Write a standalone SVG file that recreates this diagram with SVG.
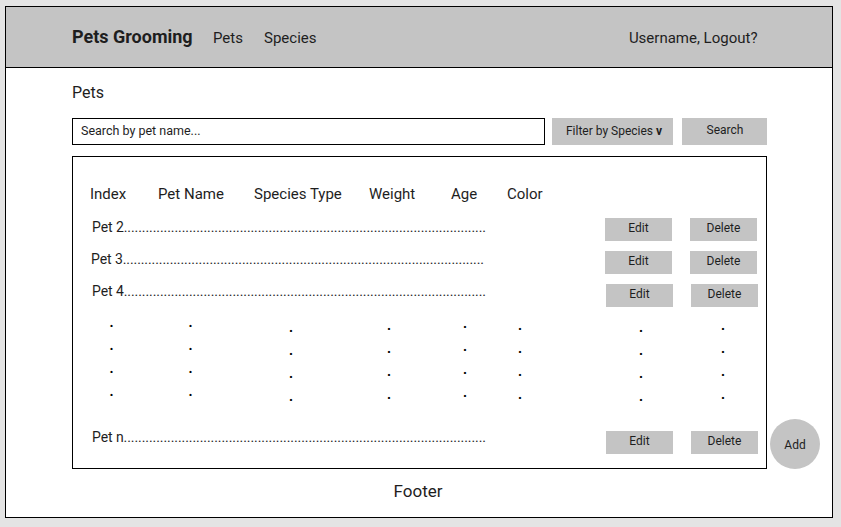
<svg xmlns="http://www.w3.org/2000/svg" width="841" height="527" viewBox="0 0 841 527">
<style>
text{font-family:Roboto,"Liberation Sans",sans-serif;fill:#1e1e1e}
.btn{fill:#c4c4c4}
.bt{font-size:12px;text-anchor:middle}
.hd{font-size:15px}
.row{font-size:14px}
.dot{font-size:14px;font-weight:bold;fill:#000}
</style>
<rect width="841" height="527" fill="#e4e4e4"/>
<g id="frame">
<rect x="5.5" y="6.5" width="827" height="511" fill="#fff" stroke="#000"/>
</g>
<g id="header">
<rect x="5.5" y="6.5" width="827" height="61" fill="#c4c4c4" stroke="#000"/>
<text x="72" y="43" font-size="18" font-weight="bold">Pets Grooming</text>
<text x="213" y="42.5" font-size="15">Pets</text>
<text x="264" y="42.5" font-size="15">Species</text>
<text x="757.5" y="42.5" font-size="15" text-anchor="end">Username, Logout?</text>
</g>
<g id="title"><text x="72" y="98" font-size="16">Pets</text></g>
<g id="search-box">
<rect x="72.5" y="118.5" width="472" height="26" fill="#fff" stroke="#000"/>
<text x="81" y="135" font-size="12.5">Search by pet name...</text>
</g>
<g id="filter">
<rect class="btn" x="552" y="118" width="121" height="27"/>
<text class="bt" x="614" y="135">Filter by Species <tspan font-weight="bold">v</tspan></text>
</g>
<g id="search-btn">
<rect class="btn" x="682" y="118" width="85" height="27"/>
<text class="bt" x="725" y="134">Search</text>
</g>
<g id="table">
<rect x="72.5" y="156.5" width="694" height="312" fill="#fff" stroke="#000"/>
<text class="hd" x="90" y="199">Index</text>
<text class="hd" x="158" y="199">Pet Name</text>
<text class="hd" x="254" y="199">Species Type</text>
<text class="hd" x="369" y="199">Weight</text>
<text class="hd" x="451" y="199">Age</text>
<text class="hd" x="507" y="199">Color</text>
<text class="row" x="92" y="232" textLength="394" lengthAdjust="spacing">Pet 2....................................................................................................</text>
<text class="row" x="91" y="264" textLength="393" lengthAdjust="spacing">Pet 3....................................................................................................</text>
<text class="row" x="92" y="296" textLength="394" lengthAdjust="spacing">Pet 4....................................................................................................</text>
<text class="row" x="92" y="442" textLength="394" lengthAdjust="spacing">Pet n....................................................................................................</text>
</g>
<g id="ellipsis">
<text class="dot" x="109.5" y="326.5">.</text><text class="dot" x="109.5" y="349.5">.</text><text class="dot" x="109.5" y="372.5">.</text><text class="dot" x="109.5" y="395.5">.</text>
<text class="dot" x="188.5" y="326.5">.</text><text class="dot" x="188.5" y="349.5">.</text><text class="dot" x="188.5" y="372.5">.</text><text class="dot" x="188.5" y="395.5">.</text>
<text class="dot" x="289" y="332">.</text><text class="dot" x="289" y="355">.</text><text class="dot" x="289" y="378">.</text><text class="dot" x="289" y="401">.</text>
<text class="dot" x="387" y="330">.</text><text class="dot" x="387" y="353">.</text><text class="dot" x="387" y="376">.</text><text class="dot" x="387" y="399">.</text>
<text class="dot" x="463" y="328">.</text><text class="dot" x="463" y="351">.</text><text class="dot" x="463" y="374">.</text><text class="dot" x="463" y="397">.</text>
<text class="dot" x="518" y="330">.</text><text class="dot" x="518" y="353">.</text><text class="dot" x="518" y="376">.</text><text class="dot" x="518" y="399">.</text>
<text class="dot" x="639" y="332">.</text><text class="dot" x="639" y="355">.</text><text class="dot" x="639" y="378">.</text><text class="dot" x="639" y="401">.</text>
<text class="dot" x="721" y="330">.</text><text class="dot" x="721" y="353">.</text><text class="dot" x="721" y="376">.</text><text class="dot" x="721" y="399">.</text>
</g>
<g id="row-buttons">
<rect class="btn" x="605" y="218" width="67" height="23"/><text class="bt" x="638.5" y="232">Edit</text>
<rect class="btn" x="690" y="218" width="67" height="23"/><text class="bt" x="723.5" y="232">Delete</text>
<rect class="btn" x="605" y="251" width="67" height="23"/><text class="bt" x="638.5" y="265">Edit</text>
<rect class="btn" x="690" y="251" width="67" height="23"/><text class="bt" x="723.5" y="265">Delete</text>
<rect class="btn" x="606" y="284" width="67" height="23"/><text class="bt" x="639.5" y="298">Edit</text>
<rect class="btn" x="691" y="284" width="67" height="23"/><text class="bt" x="724.5" y="298">Delete</text>
<rect class="btn" x="606" y="431" width="67" height="23"/><text class="bt" x="639.5" y="445">Edit</text>
<rect class="btn" x="691" y="431" width="67" height="23"/><text class="bt" x="724.5" y="445">Delete</text>
</g>
<g id="add">
<circle cx="795" cy="444" r="25" fill="#c4c4c4"/>
<text class="bt" x="795" y="449">Add</text>
</g>
<g id="footer"><text x="418" y="497" font-size="17" text-anchor="middle">Footer</text></g>
<g id="connectors"></g>
</svg>
